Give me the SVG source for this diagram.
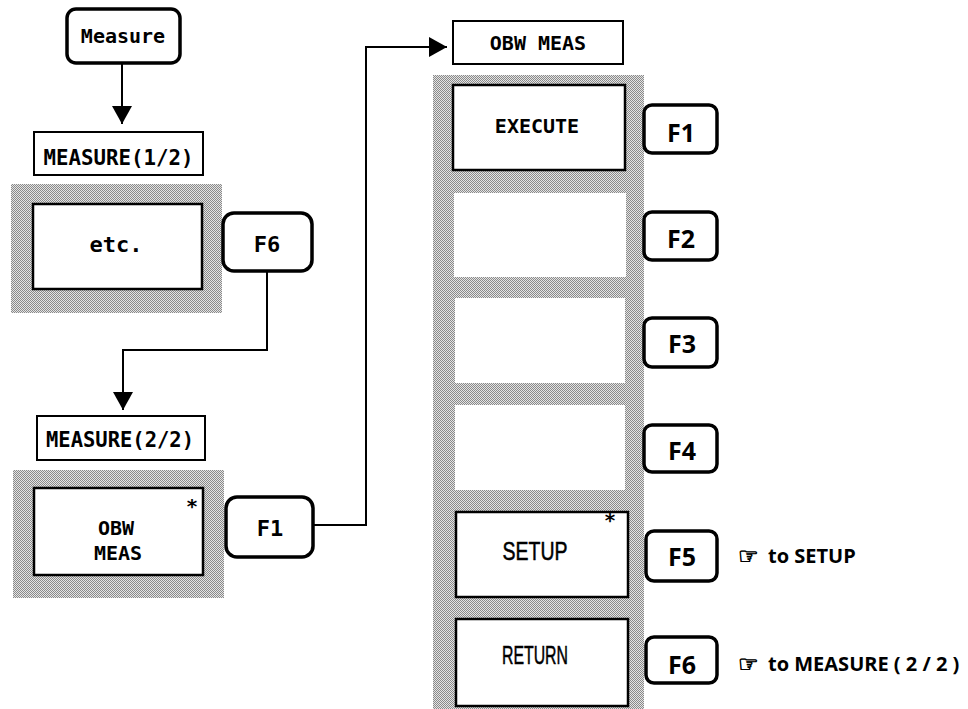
<svg xmlns="http://www.w3.org/2000/svg" width="968" height="709" viewBox="0 0 968 709">
<defs>
  <pattern id="dither" width="2" height="2" patternUnits="userSpaceOnUse">
    <rect width="2" height="2" fill="#e4e4e4"/>
    <rect x="0" y="0" width="1" height="1" fill="#8a8a8a"/>
    <rect x="1" y="1" width="1" height="1" fill="#8a8a8a"/>
  </pattern>
  <marker id="arrow" markerUnits="userSpaceOnUse" markerWidth="20" markerHeight="20" viewBox="0 0 20 20" refX="18" refY="10" orient="auto">
    <path d="M0,0 L18,10 L0,20 Z" fill="#000"/>
  </marker>
  <style>
    .shade{fill:url(#dither);stroke:none}
    .panel{fill:#fff;stroke:#000;stroke-width:2.5}
    .blank{fill:#fff;stroke:none}
    .hdr{fill:#fff;stroke:#000;stroke-width:2}
    .key{fill:#fff;stroke:#000;stroke-width:3.5}
    .mono{font-family:"DejaVu Sans Mono","Liberation Mono",monospace;font-weight:bold;text-anchor:middle;fill:#000}
    .sans{font-family:"Liberation Sans",Arial,sans-serif;text-anchor:middle;fill:#000;stroke:#000;stroke-width:0.5}
    .fk{font-family:"Open Sans","Liberation Sans",sans-serif;font-weight:bold;font-size:25px;text-anchor:middle;fill:#000}
    .note{font-family:"Open Sans","Liberation Sans",sans-serif;font-weight:bold;font-size:20px;fill:#000}
    .hand{font-family:"DejaVu Sans",sans-serif;font-size:23px;fill:#000;stroke:#000;stroke-width:0.8}
    .conn{fill:none;stroke:#000;stroke-width:2}
  </style>
</defs>
<rect width="968" height="709" fill="#fff"/>

<!-- left column -->
<g id="measure-key">
  <rect class="key" x="67" y="9" width="113" height="54" rx="9"/>
  <text class="mono" x="123" y="43" font-size="20">Measure</text>
</g>
<g id="measure-1-2-title">
  <rect class="hdr" x="34" y="132" width="169" height="43"/>
  <text class="mono" x="118.5" y="165" font-size="22" textLength="150" lengthAdjust="spacingAndGlyphs">MEASURE(1/2)</text>
</g>
<g id="measure-1-2-menu">
  <rect class="shade" x="11" y="184" width="211" height="129"/>
  <rect class="panel" x="33" y="204" width="169" height="85"/>
  <text class="mono" x="116" y="252" font-size="22">etc.</text>
</g>
<g id="f6-left">
  <rect class="key" x="223" y="213" width="89" height="58" rx="11"/>
  <text class="mono" x="267" y="252" font-size="22">F6</text>
</g>
<g id="measure-2-2-title">
  <rect class="hdr" x="37" y="416" width="168" height="44"/>
  <text class="mono" x="120" y="447" font-size="21" textLength="148" lengthAdjust="spacingAndGlyphs">MEASURE(2/2)</text>
</g>
<g id="measure-2-2-menu">
  <rect class="shade" x="13" y="470" width="211" height="128"/>
  <rect class="panel" x="34" y="488" width="169" height="87"/>
  <text class="mono" x="116" y="535" font-size="20">OBW</text>
  <text class="mono" x="118" y="560" font-size="20">MEAS</text>
  <text class="mono" x="192" y="513" font-size="20">*</text>
</g>
<g id="f1-left">
  <rect class="key" x="226" y="497" width="87" height="60" rx="11"/>
  <text class="mono" x="270" y="536" font-size="22">F1</text>
</g>

<!-- right column -->
<g id="obw-meas-title">
  <rect class="hdr" x="453" y="21" width="170" height="43"/>
  <text class="mono" x="538" y="50" font-size="20">OBW MEAS</text>
</g>
<g id="obw-meas-menu">
  <rect class="shade" x="433" y="75" width="211" height="640"/>
  <rect class="panel" x="453" y="85" width="172" height="85"/>
  <text class="mono" x="537" y="133" font-size="20">EXECUTE</text>
  <rect class="blank" x="454" y="193" width="172" height="84"/>
  <rect class="blank" x="455" y="298" width="170" height="85"/>
  <rect class="blank" x="455" y="405" width="170" height="85"/>
  <rect class="panel" x="456" y="512" width="172" height="85"/>
  <text class="sans" x="535" y="560" font-size="25" textLength="65" lengthAdjust="spacingAndGlyphs">SETUP</text>
  <text class="mono" x="610" y="527" font-size="20">*</text>
  <rect class="panel" x="456" y="619" width="172" height="87"/>
  <text class="sans" x="535" y="664" font-size="25" textLength="66" lengthAdjust="spacingAndGlyphs">RETURN</text>
</g>
<g id="f1-right">
  <rect class="key" x="644" y="105" width="73" height="48" rx="8"/>
  <text class="fk" x="681" y="142">F1</text>
</g>
<g id="f2-right">
  <rect class="key" x="644" y="212" width="73" height="48" rx="8"/>
  <text class="fk" x="681" y="248">F2</text>
</g>
<g id="f3-right">
  <rect class="key" x="644" y="318" width="73" height="49" rx="8"/>
  <text class="fk" x="682" y="353">F3</text>
</g>
<g id="f4-right">
  <rect class="key" x="644" y="425" width="73" height="47" rx="8"/>
  <text class="fk" x="682" y="460">F4</text>
</g>
<g id="f5-right">
  <rect class="key" x="646" y="531" width="71" height="50" rx="8"/>
  <text class="fk" x="682" y="566">F5</text>
  <text class="hand" x="738" y="564">☞</text>
  <text class="note" x="768" y="563">to SETUP</text>
</g>
<g id="f6-right">
  <rect class="key" x="646" y="637" width="71" height="46" rx="8"/>
  <text class="fk" x="682" y="674">F6</text>
  <text class="hand" x="738" y="672">☞</text>
  <text class="note" x="768" y="671">to MEASURE ( 2 / 2 )</text>
</g>

<g id="connectors">
  <path class="conn" d="M122,63 V124" marker-end="url(#arrow)"/>
  <path class="conn" d="M267,271 V350 H123 V410" marker-end="url(#arrow)"/>
  <path class="conn" d="M313,525 H366 V47 H447" marker-end="url(#arrow)"/>
</g>
</svg>
